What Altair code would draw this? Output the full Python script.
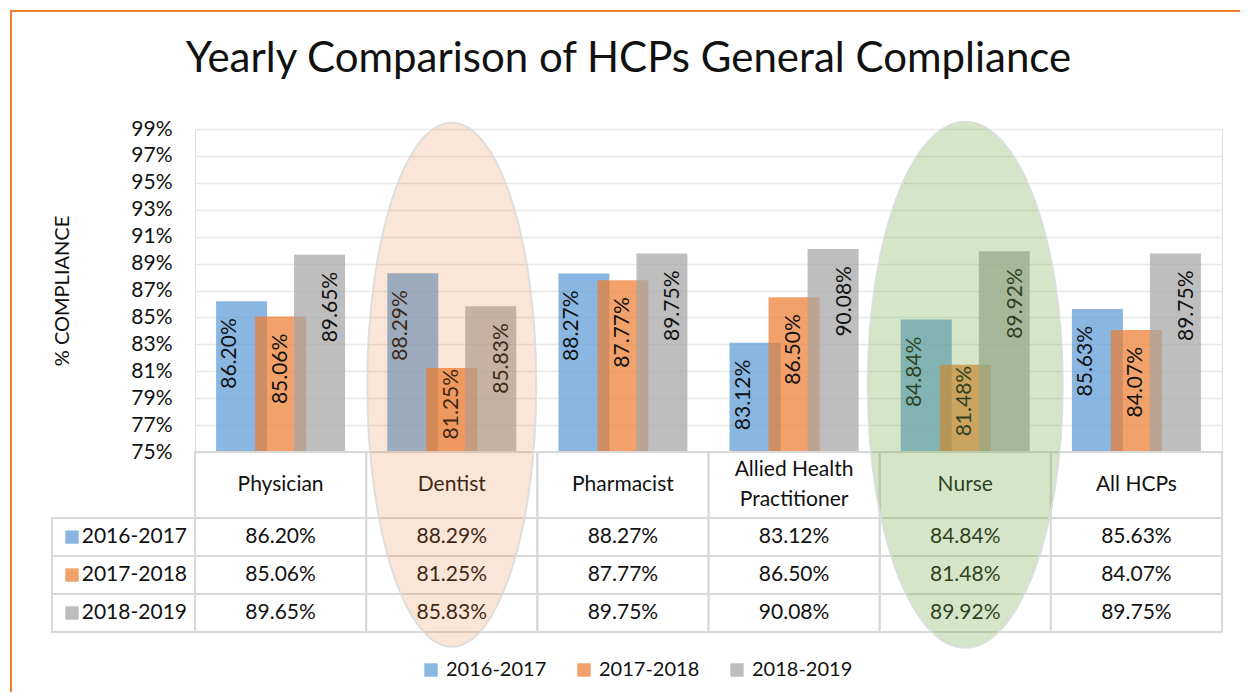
import altair as alt
import pandas as pd

# ---------------- data ----------------
categories = ["Physician", "Dentist", "Pharmacist", "Allied Health\nPractitioner", "Nurse", "All HCPs"]
series = ["2016-2017", "2017-2018", "2018-2019"]
v_2016_2017 = [0.8620, 0.8829, 0.8827, 0.8312, 0.8484, 0.8563]
v_2017_2018 = [0.8506, 0.8125, 0.8777, 0.8650, 0.8148, 0.8407]
v_2018_2019 = [0.8965, 0.8583, 0.8975, 0.9008, 0.8992, 0.8975]
y_ticks = [0.75, 0.77, 0.79, 0.81, 0.83, 0.85, 0.87, 0.89, 0.91, 0.93, 0.95, 0.97, 0.99]
highlighted = ["Dentist", "Nurse"]
title_text = "Yearly Comparison of HCPs General Compliance"

# ---------------- styling / layout ----------------
FONT = "Lato"
TXT = "#111111"
colors = ["#5B9BD5", "#ED7D31", "#A5A5A5"]
BAR_OPACITY = 0.72
W, H = 1027, 323
TABLE_H = 180
HEADER_UNITS = 1.74
TABLE_UNITS = HEADER_UNITS + len(series)
GRID_C = "#d9d9d9"
CAT_BW = W / len(categories)
BAR_STEP = 39.0 / CAT_BW      # bar spacing, in category units
BAR_HALF = 25.5 / CAT_BW      # half bar width, in category units

values = [v_2016_2017, v_2017_2018, v_2018_2019]
rows = []
for si, s in enumerate(series):
    for ci, c in enumerate(categories):
        rows.append({"category": c, "series": s, "value": values[si][ci], "row": si, "ci": ci})
df = pd.DataFrame(rows)
df_cat = pd.DataFrame({"category": categories, "ci": list(range(len(categories)))})
df_series = pd.DataFrame({"series": series, "row": list(range(len(series)))})

X = alt.X("category:N", scale=alt.Scale(domain=categories, paddingInner=0, paddingOuter=0), axis=None)
XO = alt.XOffset("series:N", scale=alt.Scale(domain=series, paddingInner=0, paddingOuter=0.694))
xq = alt.Scale(domain=[0, len(categories)], nice=False, zero=False)
ysc = alt.Scale(domain=[0.75, 0.99], nice=False, zero=False)
tsc = alt.Scale(domain=[0, TABLE_UNITS], range=[H, H + TABLE_H], nice=False, zero=False)


def TY(f):
    return alt.Y(f, type="quantitative", scale=tsc, axis=None)


color = alt.Color(
    "series:N",
    scale=alt.Scale(domain=series, range=colors),
    legend=alt.Legend(
        title=None, orient="none", legendX=226, legendY=531, direction="horizontal",
        symbolType="square", symbolSize=180, symbolOpacity=BAR_OPACITY, symbolStrokeWidth=0,
        labelFont=FONT, labelFontSize=20, labelColor=TXT, labelOffset=5, columnPadding=27,
    ),
)

frame = alt.Chart(pd.DataFrame({"a": [0]})).mark_rect(
    fill="transparent", stroke="#ED7D31", strokeWidth=2
).encode(x=alt.value(-184), x2=alt.value(1400), y=alt.value(-118), y2=alt.value(900))

bars = alt.Chart(df).transform_calculate(
    b0=f"datum.ci + 0.5 + (datum.row - 1) * {BAR_STEP} - {BAR_HALF}",
    b1=f"datum.ci + 0.5 + (datum.row - 1) * {BAR_STEP} + {BAR_HALF}",
).mark_bar(opacity=BAR_OPACITY).encode(
    x=alt.X("b0:Q", scale=xq, axis=None), x2="b1:Q",
    y=alt.Y("value:Q", scale=ysc, axis=alt.Axis(
        values=y_ticks, format=".0%", grid=True, gridColor="#e8e8e8", gridWidth=1.5,
        domain=False, ticks=False, tickSize=0, labelPadding=23,
        labelFont=FONT, labelFontSize=21, labelColor=TXT,
        title="% COMPLIANCE", titleFont=FONT, titleFontSize=20, titleFontWeight="normal",
        titleColor=TXT, titlePadding=58)),
    y2=alt.datum(0.75),
    color=color,
)

lab_common = dict(angle=270, align="right", baseline="middle", font=FONT, fontSize=21, color=TXT)
labels_tall = alt.Chart(df).transform_filter("datum.value >= 0.82").mark_text(dx=-17, **lab_common).encode(
    x=X, xOffset=XO, y=alt.Y("value:Q", scale=ysc, axis=None),
    text=alt.Text("value:Q", format=".2%"))
labels_short = alt.Chart(df).transform_filter("datum.value < 0.82").mark_text(dx=-1, **lab_common).encode(
    x=X, xOffset=XO, y=alt.Y("value:Q", scale=ysc, axis=None),
    text=alt.Text("value:Q", format=".2%"))

cell_style = dict(fill="transparent", stroke=GRID_C, strokeWidth=2)
col_calc = dict(c0="datum.ci", c1="datum.ci + 1")
header_cells = alt.Chart(df_cat).transform_calculate(
    r0="0", r1=str(HEADER_UNITS), **col_calc).mark_rect(**cell_style).encode(
    x=alt.X("c0:Q", scale=xq, axis=None), x2="c1:Q", y=TY("r0"), y2="r1")
row_calc = dict(r0=f"{HEADER_UNITS} + datum.row", r1=f"{HEADER_UNITS} + datum.row + 1",
                rc=f"{HEADER_UNITS} + datum.row + 0.5")
data_cells = alt.Chart(df).transform_calculate(**row_calc, **col_calc).mark_rect(**cell_style).encode(
    x=alt.X("c0:Q", scale=xq, axis=None), x2="c1:Q", y=TY("r0"), y2="r1")
left_cells = alt.Chart(df_series).transform_calculate(**row_calc).mark_rect(**cell_style).encode(
    x=alt.value(-143), x2=alt.value(0), y=TY("r0"), y2="r1")

txt_style = dict(font=FONT, fontSize=21, color=TXT, baseline="middle")
header_text_1 = alt.Chart(df_cat).transform_filter("indexof(datum.category, '\\n') < 0").transform_calculate(
    rc=str(HEADER_UNITS / 2)).mark_text(align="center", **txt_style).encode(
    x=X, y=TY("rc"), text="category:N")
header_text_2 = alt.Chart(df_cat).transform_filter("indexof(datum.category, '\\n') >= 0").transform_calculate(
    rc=str(HEADER_UNITS / 2)).mark_text(lineBreak="\n", lineHeight=30, dy=-15, align="center", **txt_style).encode(
    x=X, y=TY("rc"), text="category:N")
cell_text = alt.Chart(df).transform_calculate(**row_calc).mark_text(align="center", **txt_style).encode(
    x=X, y=TY("rc"), text=alt.Text("value:Q", format=".2%"))
left_text = alt.Chart(df_series).transform_calculate(**row_calc).mark_text(align="right", **txt_style).encode(
    x=alt.value(-8), y=TY("rc"), text="series:N")
left_keys = alt.Chart(df_series).transform_calculate(**row_calc).mark_square(
    size=180, opacity=BAR_OPACITY, filled=True).encode(
    x=alt.value(-123), y=TY("rc"),
    color=alt.Color("series:N", scale=alt.Scale(domain=series, range=colors), legend=None))


def ellipse_path(r, k=0.5523):
    return (f"M 0 -1 C {k*r:.4f} -1 {r:.4f} {-k:.4f} {r:.4f} 0 "
            f"C {r:.4f} {k:.4f} {k*r:.4f} 1 0 1 "
            f"C {-k*r:.4f} 1 {-r:.4f} {k:.4f} {-r:.4f} 0 "
            f"C {-r:.4f} {-k:.4f} {-k*r:.4f} -1 0 -1 Z")


def ellipse(cat, w, h, fill, fop, dx):
    return alt.Chart(pd.DataFrame({"category": [cat]})).mark_point(
        shape=ellipse_path(w / h), filled=True, fill=fill, fillOpacity=fop,
        stroke="#dcdcdc", strokeOpacity=0.9, strokeWidth=2, size=h * h, dx=dx, opacity=1,
    ).encode(x=X, y=alt.Y(datum=0.80, type="quantitative", scale=ysc, axis=None))


ell_dentist = ellipse(highlighted[0], 169, 524, "#ED7D31", 0.2, 0)
ell_nurse = ellipse(highlighted[1], 195, 526, "#70AD47", 0.3, 11)

chart = alt.layer(
    frame, bars, labels_tall, labels_short,
    header_cells, data_cells, left_cells,
    header_text_1, header_text_2, cell_text, left_text, left_keys,
    ell_dentist, ell_nurse,
).resolve_scale(y="independent", x="independent").properties(
    width=W, height=H,
    autosize=alt.AutoSizeParams(type="none"),
    padding={"left": 187, "top": 121, "right": 18, "bottom": 240},
    title=alt.TitleParams(title_text, font=FONT, fontSize=42, fontWeight="normal", color=TXT,
                          anchor="middle", frame="group", dx=-80, offset=0, dy=71),
    background="white",
).configure_view(stroke=None).configure(font=FONT)

chart.save("out.html", embed_options={"renderer": "svg", "actions": False})
